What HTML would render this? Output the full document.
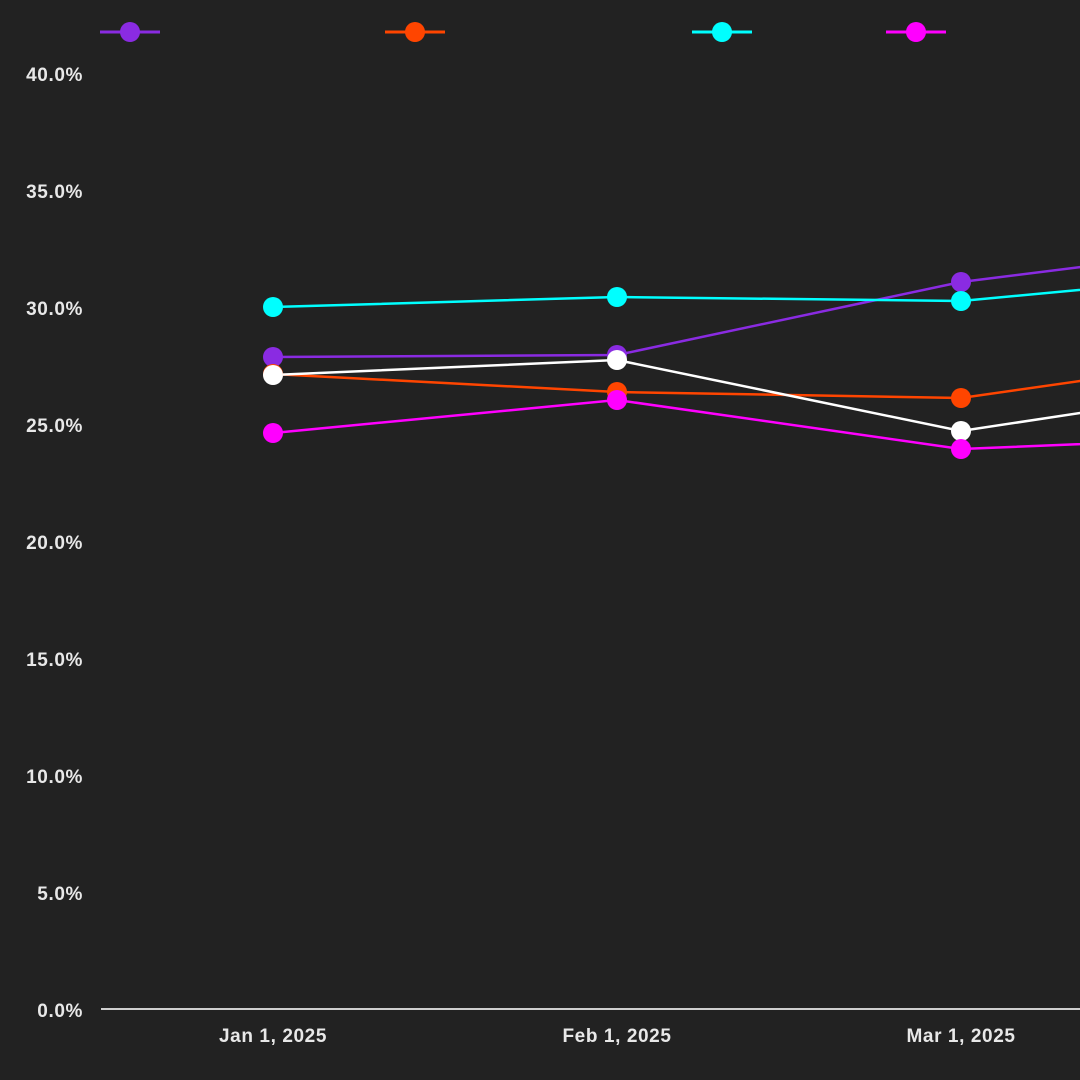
<!DOCTYPE html>
<html><head><meta charset="utf-8"><style>
html,body{margin:0;padding:0;background:#222222;}
svg{display:block;}
text{font-family:"Liberation Sans",sans-serif;font-size:19px;fill:#e8e8e8;font-weight:bold;letter-spacing:0.6px;}
</style></head><body>
<svg width="1080" height="1080" viewBox="0 0 1080 1080">
<rect width="1080" height="1080" fill="#222222"/>
<g text-anchor="end">
<text x="83" y="81">40.0%</text>
<text x="83" y="198">35.0%</text>
<text x="83" y="315">30.0%</text>
<text x="83" y="432">25.0%</text>
<text x="83" y="549">20.0%</text>
<text x="83" y="666">15.0%</text>
<text x="83" y="783">10.0%</text>
<text x="83" y="900">5.0%</text>
<text x="83" y="1017">0.0%</text>
</g>
<line x1="101" y1="1009" x2="1080" y2="1009" stroke="#cfcfcf" stroke-width="2"/>
<g text-anchor="middle">
<text x="273" y="1042">Jan 1, 2025</text>
<text x="617" y="1042">Feb 1, 2025</text>
<text x="961" y="1042">Mar 1, 2025</text>
</g>
<g stroke-width="3">
<line x1="100" y1="32" x2="160" y2="32" stroke="#8a2be2"/><circle cx="130" cy="32" r="10" fill="#8a2be2"/>
<line x1="385" y1="32" x2="445" y2="32" stroke="#ff4500"/><circle cx="415" cy="32" r="10" fill="#ff4500"/>
<line x1="692" y1="32" x2="752" y2="32" stroke="#00ffff"/><circle cx="722" cy="32" r="10" fill="#00ffff"/>
<line x1="886" y1="32" x2="946" y2="32" stroke="#ff00ff"/><circle cx="916" cy="32" r="10" fill="#ff00ff"/>
</g>
<g fill="none" stroke-width="2.5">
<polyline points="273,357 617,355 961,282 1305,239" stroke="#8a2be2"/>
<polyline points="273,307 617,297 961,301 1305,269" stroke="#00ffff"/>
<polyline points="273,374 617,392 961,398 1305,349" stroke="#ff4500"/>
<polyline points="273,375 617,360 961,431 1305,379" stroke="#ffffff"/>
<polyline points="273,433 617,400 961,449 1305,435" stroke="#ff00ff"/>
</g>
<g>
<circle cx="273" cy="357" r="10" fill="#8a2be2"/><circle cx="617" cy="355" r="10" fill="#8a2be2"/><circle cx="961" cy="282" r="10" fill="#8a2be2"/>
<circle cx="273" cy="307" r="10" fill="#00ffff"/><circle cx="617" cy="297" r="10" fill="#00ffff"/><circle cx="961" cy="301" r="10" fill="#00ffff"/>
<circle cx="273" cy="374" r="10" fill="#ff4500"/><circle cx="617" cy="392" r="10" fill="#ff4500"/><circle cx="961" cy="398" r="10" fill="#ff4500"/>
<circle cx="273" cy="375" r="10" fill="#ffffff"/><circle cx="617" cy="360" r="10" fill="#ffffff"/><circle cx="961" cy="431" r="10" fill="#ffffff"/>
<circle cx="273" cy="433" r="10" fill="#ff00ff"/><circle cx="617" cy="400" r="10" fill="#ff00ff"/><circle cx="961" cy="449" r="10" fill="#ff00ff"/>
</g>
</svg>
</body></html>
